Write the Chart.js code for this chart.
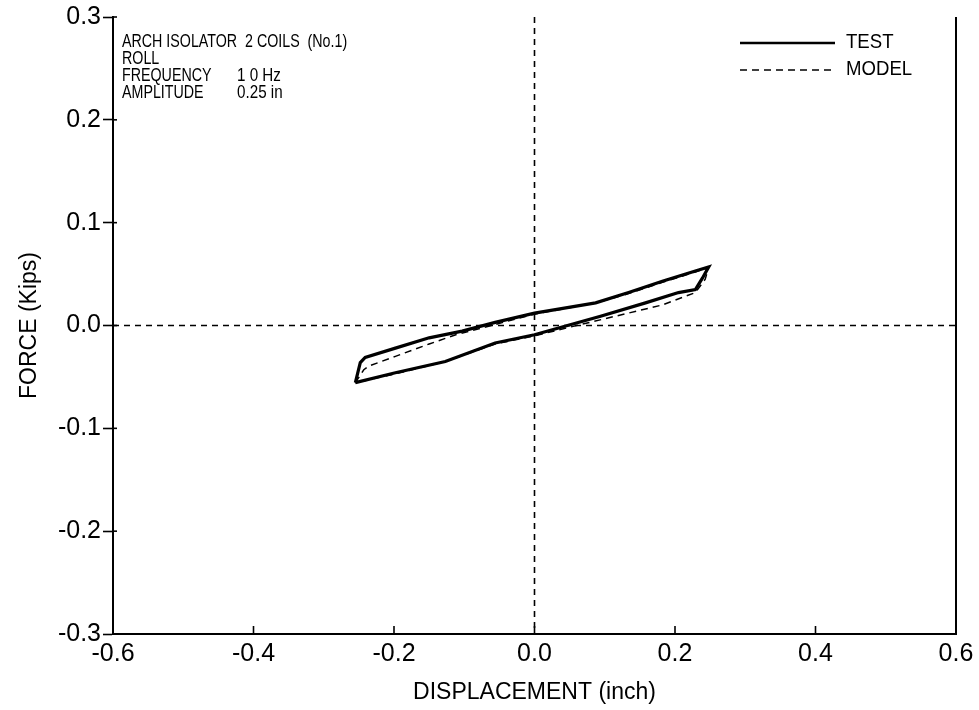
<!DOCTYPE html>
<html>
<head>
<meta charset="utf-8">
<script src="https://cdn.jsdelivr.net/npm/chart.js@4/dist/chart.umd.min.js"></script>
<style>
html,body{margin:0;padding:0;background:#fff;}
#wrap{width:979px;height:710px;}
</style>
</head>
<body>
<div id="wrap"><canvas id="c" width="979" height="710"></canvas></div>
<script>
// ---- data ----
const testDisp  = [-0.255,-0.248,-0.241,-0.198,-0.150,-0.103,-0.056,0.000,0.087,0.134,0.182,0.229,0.248,
                   0.239,0.229,0.205,0.158,0.094,0.000,-0.056,-0.127,-0.198,-0.255];
const testForce = [-0.0556,-0.036,-0.031,-0.022,-0.012,-0.0055,0.003,0.012,0.022,0.032,0.043,0.053,0.057,
                   0.046,0.035,0.032,0.022,0.009,-0.009,-0.017,-0.035,-0.046,-0.0556];
const modelDisp  = [-0.255,-0.243,-0.236,-0.198,-0.150,-0.112,-0.056,0.000,0.087,0.134,0.182,0.229,0.248,
                    0.243,0.229,0.182,0.115,0.060,0.000,-0.056,-0.127,-0.198,-0.255];
const modelForce = [-0.0556,-0.043,-0.0395,-0.030,-0.018,-0.009,0.001,0.011,0.022,0.031,0.042,0.052,0.057,
                    0.045,0.032,0.020,0.009,0.000,-0.010,-0.018,-0.035,-0.047,-0.0556];
const xTicks = [-0.6,-0.4,-0.2,0.0,0.2,0.4,0.6];
const yTicks = [-0.3,-0.2,-0.1,0.0,0.1,0.2,0.3];
const seriesNames = ['TEST','MODEL'];
const infoLines = [['ARCH ISOLATOR  2 COILS  (No.1)',''],['ROLL',''],['FREQUENCY','1 0 Hz'],['AMPLITUDE','0.25 in']];
const xTitle = 'DISPLACEMENT (inch)';
const yTitle = 'FORCE (Kips)';

const toPts = (xs, ys) => xs.map((v,i)=>({x:v,y:ys[i]}));
const SANS = '"Liberation Sans",Arial,sans-serif';

function narrowText(ctx, txt, x, y, sx){
  ctx.save();
  ctx.translate(x,y);
  ctx.scale(sx,1);
  ctx.fillText(txt,0,0);
  ctx.restore();
}

const decor = {
  id:'decor',
  beforeDatasetsDraw(chart){
    const {ctx, chartArea:a, scales:{x,y}} = chart;
    ctx.save();
    ctx.strokeStyle='#000';
    ctx.lineWidth=1.6;
    ctx.setLineDash([6,5]);
    const y0=y.getPixelForValue(0), x0=x.getPixelForValue(0);
    ctx.beginPath(); ctx.moveTo(a.left,y0); ctx.lineTo(a.right,y0); ctx.stroke();
    ctx.beginPath(); ctx.moveTo(x0,a.top); ctx.lineTo(x0,a.bottom); ctx.stroke();
    ctx.restore();
  },
  afterDraw(chart){
    const {ctx, chartArea:a, scales:{x,y}} = chart;
    ctx.save();
    ctx.strokeStyle='#000';
    ctx.setLineDash([]);
    // right frame line
    ctx.lineWidth=2;
    ctx.beginPath(); ctx.moveTo(a.right,a.top); ctx.lineTo(a.right,a.bottom); ctx.stroke();
    // x ticks pointing inward
    ctx.lineWidth=1.6;
    xTicks.forEach(v=>{const px=x.getPixelForValue(v);
      ctx.beginPath(); ctx.moveTo(px,a.bottom); ctx.lineTo(px,a.bottom-8); ctx.stroke();});
    // y ticks small inward part
    yTicks.forEach(v=>{const py=y.getPixelForValue(v);
      ctx.beginPath(); ctx.moveTo(a.left,py); ctx.lineTo(a.left+4,py); ctx.stroke();});
    // info text
    ctx.fillStyle='#000';
    ctx.font='19px '+SANS;
    ctx.textBaseline='middle';
    ctx.textAlign='left';
    const lx=a.left+9;
    infoLines.forEach((ln,i)=>{
      const ty=a.top+25+i*17;
      narrowText(ctx,ln[0],lx,ty,0.75);
      if(ln[1]) narrowText(ctx,ln[1],a.left+124,ty,0.8);
    });
    // legend
    const ds=chart.data.datasets;
    ds.forEach((d,i)=>{
      const ly=a.top+26+i*27;
      ctx.lineWidth=d.borderWidth>2?2.4:1.4;
      ctx.setLineDash(d.borderDash||[]);
      ctx.beginPath(); ctx.moveTo(740,ly); ctx.lineTo(835,ly); ctx.stroke();
      ctx.setLineDash([]);
      ctx.font='20px '+SANS;
      narrowText(ctx,d.label,846,ly-1,0.93);
    });
    ctx.restore();
  }
};

new Chart(document.getElementById('c'),{
  type:'scatter',
  data:{datasets:[
    {label:seriesNames[0],data:toPts(testDisp,testForce),showLine:true,borderColor:'#000',borderWidth:3.2,pointRadius:0,fill:false,tension:0},
    {label:seriesNames[1],data:toPts(modelDisp,modelForce),showLine:true,borderColor:'#000',borderWidth:1.5,borderDash:[7,5],pointRadius:0,fill:false,tension:0}
  ]},
  plugins:[decor],
  options:{
    responsive:false,animation:false,
    layout:{padding:{left:0,right:23,top:17,bottom:0}},
    plugins:{legend:{display:false},tooltip:{enabled:false}},
    scales:{
      x:{type:'linear',min:-0.6,max:0.6,
        afterBuildTicks(s){s.ticks=xTicks.map(v=>({value:v}));},
        afterFit(s){s.height=76;},
        grid:{display:true,drawOnChartArea:false,drawTicks:false},
        border:{display:true,color:'#000',width:2},
        ticks:{color:'#000',padding:5,maxRotation:0,font:{family:SANS,size:25},callback:v=>v.toFixed(1)},
        title:{display:true,text:xTitle,color:'#000',padding:{top:0,bottom:4},font:{family:SANS,size:23}}
      },
      y:{type:'linear',min:-0.3,max:0.3,
        afterBuildTicks(s){s.ticks=yTicks.map(v=>({value:v}));},
        afterFit(s){s.width=113;},
        grid:{display:true,drawOnChartArea:false,drawTicks:true,tickLength:10,color:'#000',tickWidth:1.6},
        border:{display:true,color:'#000',width:2},
        ticks:{color:'#000',padding:2,font:{family:SANS,size:25},callback:v=>v.toFixed(1)},
        title:{display:true,text:yTitle,color:'#000',padding:{top:16,bottom:0},font:{family:SANS,size:23}}
      }
    }
  }
});
</script>
</body>
</html>
